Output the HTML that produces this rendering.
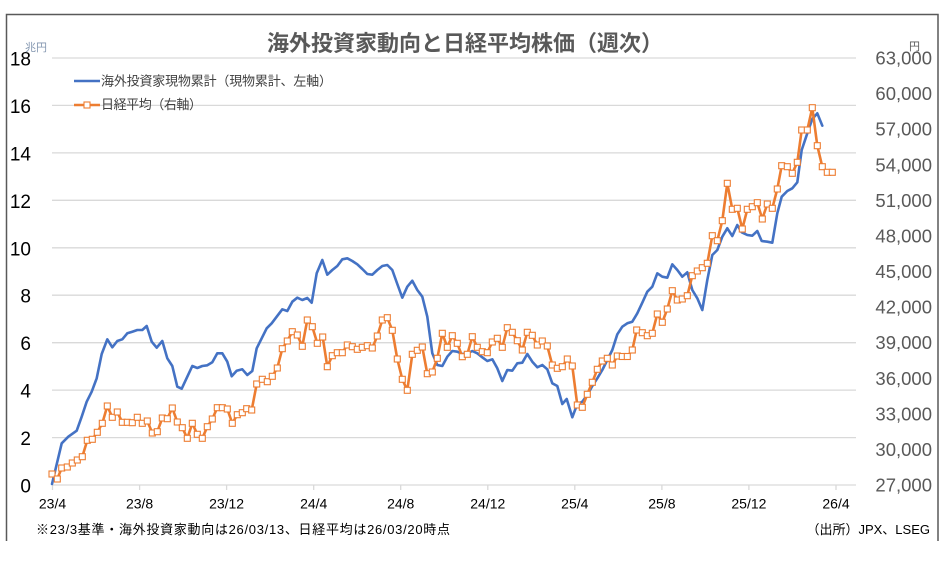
<!DOCTYPE html>
<html><head><meta charset="utf-8"><style>
html,body{margin:0;padding:0;background:#fff;}
svg{display:block;}
text{font-family:"Liberation Sans","Noto Sans CJK JP",sans-serif;}
</style></head><body>
<svg width="946" height="562" viewBox="0 0 946 562" xmlns="http://www.w3.org/2000/svg">
<defs>
<marker id="m" markerUnits="userSpaceOnUse" markerWidth="9" markerHeight="9" refX="4.5" refY="4.5" viewBox="0 0 9 9"><rect x="1.5" y="1.5" width="6" height="6" fill="#fff" stroke="#ED7D31" stroke-width="1.1"/></marker>
</defs>
<rect width="946" height="562" fill="#fff"/>
<!-- frame -->
<path d="M6.5 541 V14.5 H938 V541" fill="none" stroke="#595959" stroke-width="1.5"/>
<!-- title -->
<text x="465" y="51" text-anchor="middle" font-size="22" font-weight="bold" fill="#595959">海外投資家動向と日経平均株価（週次）</text>
<!-- gridlines -->
<g stroke="#d9d9d9" stroke-width="1.3">
<line x1="52" x2="856" y1="58" y2="58"/>
<line x1="52" x2="856" y1="105.4" y2="105.4"/>
<line x1="52" x2="856" y1="152.9" y2="152.9"/>
<line x1="52" x2="856" y1="200.3" y2="200.3"/>
<line x1="52" x2="856" y1="247.8" y2="247.8"/>
<line x1="52" x2="856" y1="295.2" y2="295.2"/>
<line x1="52" x2="856" y1="342.7" y2="342.7"/>
<line x1="52" x2="856" y1="390.1" y2="390.1"/>
<line x1="52" x2="856" y1="437.6" y2="437.6"/>
<line x1="52" x2="856" y1="485" y2="485"/>
<line x1="52.5" x2="52.5" y1="485" y2="490"/>
<line x1="139.6" x2="139.6" y1="485" y2="490"/>
<line x1="226.6" x2="226.6" y1="485" y2="490"/>
<line x1="313.7" x2="313.7" y1="485" y2="490"/>
<line x1="400.7" x2="400.7" y1="485" y2="490"/>
<line x1="487.8" x2="487.8" y1="485" y2="490"/>
<line x1="574.8" x2="574.8" y1="485" y2="490"/>
<line x1="661.9" x2="661.9" y1="485" y2="490"/>
<line x1="748.9" x2="748.9" y1="485" y2="490"/>
<line x1="836" x2="836" y1="485" y2="490"/>
</g>
<!-- left axis labels -->
<g font-size="19" fill="#000" text-anchor="end">
<text x="31" y="65.5">18</text>
<text x="31" y="112.9">16</text>
<text x="31" y="160.4">14</text>
<text x="31" y="207.8">12</text>
<text x="31" y="255.3">10</text>
<text x="31" y="302.7">8</text>
<text x="31" y="350.2">6</text>
<text x="31" y="397.6">4</text>
<text x="31" y="445.1">2</text>
<text x="31" y="492.5">0</text>
</g>
<text x="25" y="51" font-size="11" fill="#8497b0">兆円</text>
<!-- right axis labels -->
<g font-size="18.5" fill="#595959" text-anchor="end">
<text x="932" y="64.5">63,000</text>
<text x="932" y="100.1">60,000</text>
<text x="932" y="135.7">57,000</text>
<text x="932" y="171.3">54,000</text>
<text x="932" y="206.8">51,000</text>
<text x="932" y="242.4">48,000</text>
<text x="932" y="278">45,000</text>
<text x="932" y="313.6">42,000</text>
<text x="932" y="349.2">39,000</text>
<text x="932" y="384.8">36,000</text>
<text x="932" y="420.3">33,000</text>
<text x="932" y="455.9">30,000</text>
<text x="932" y="491.5">27,000</text>
</g>
<text x="920" y="50" font-size="11" fill="#595959" text-anchor="end">円</text>
<!-- x labels -->
<g font-size="14" fill="#000" text-anchor="middle">
<text x="52.5" y="508.5">23/4</text>
<text x="139.6" y="508.5">23/8</text>
<text x="226.6" y="508.5">23/12</text>
<text x="313.7" y="508.5">24/4</text>
<text x="400.7" y="508.5">24/8</text>
<text x="487.8" y="508.5">24/12</text>
<text x="574.8" y="508.5">25/4</text>
<text x="661.9" y="508.5">25/8</text>
<text x="748.9" y="508.5">25/12</text>
<text x="836" y="508.5">26/4</text>
</g>
<text x="36" y="534" font-size="13" fill="#000" textLength="414" lengthAdjust="spacing">※23/3基準・海外投資家動向は26/03/13、日経平均は26/03/20時点</text>
<text x="930" y="534" font-size="13" fill="#000" text-anchor="end">（出所）JPX、LSEG</text>
<!-- legend -->
<line x1="74" x2="100" y1="81" y2="81" stroke="#4472C4" stroke-width="2.6"/>
<text x="101" y="85.5" font-size="13" fill="#404040" textLength="231" lengthAdjust="spacing">海外投資家現物累計（現物累計、左軸）</text>
<polyline points="74,105 87,105 100,105" fill="none" stroke="#ED7D31" stroke-width="2.6" marker-mid="url(#m)"/>
<text x="101" y="109" font-size="13" fill="#404040" textLength="101" lengthAdjust="spacing">日経平均（右軸）</text>
<!-- blue series -->
<polyline fill="none" stroke="#4472C4" stroke-width="2.6" stroke-linejoin="round" stroke-linecap="round" points="52,484 61.7,443.3 68.3,436.7 76.7,430.7 81.7,416.7 86.7,401.7 91.7,391.7 96.7,378.3 101.7,354 107.3,339.3 112.3,347.3 117.3,341 122.3,339.3 127.3,333.3 132.3,331.7 137.3,330 142.3,330 146.7,326 151.7,341.7 156.7,347.7 162.3,341 167.3,358.3 172.3,366 177.3,386.7 181.7,388.7 187.3,376.7 192.3,366 197.3,368 202.3,366 207.3,365.3 212.3,362.3 217.3,353.3 222.3,353.3 227.3,361.7 231.7,376.3 236.7,370.7 242.3,369.3 247.3,375 252.3,371 256.7,348.3 261.7,338.3 266.7,328.3 271.7,323.3 276.7,316.7 282.3,309.3 287.3,311 292.3,301.7 297.3,297.7 302.3,300 307.3,298 311.7,302.7 316.7,273.3 322.3,260 327.3,274.7 332.3,270 337.3,266 342.3,259.3 347.3,258.3 352.3,261 357.3,264.3 362.3,269 367.3,274 372.3,274.7 377.3,270 382.3,266 387.3,265 392.3,270 397.3,284 402.3,297.7 407.3,286.7 412.3,280.7 417.3,290 422.3,296.7 427.3,316.7 432.3,353.3 437.3,365 442.3,366 447.3,356.7 452.3,351 457.3,351.7 462.3,354 467.3,353.3 472.3,351 477.3,353.3 482.3,357.3 487.3,361 492.3,359.3 497.3,368.3 502.3,381 507.3,370 512.3,370.7 517.3,363.3 522.3,362.7 527.3,354 532.3,361.7 537.3,367.3 542.3,365 547.3,369.3 552.3,383.3 557.3,386 562.3,404 566.7,399 572.3,417.3 577.3,404 582.3,401.7 587.3,395 592.3,386 597.3,378.3 602.3,370 607.3,360 612.3,350 617.3,334.3 622.3,326.7 627.3,323.3 632.3,321.7 637.3,313.3 642.3,302.7 647.3,291.7 652.3,286.7 657.3,273.3 662.3,276.7 667.3,277.7 672.3,264.3 677.3,270 682.3,276.7 687.3,272.3 692.3,290 697.3,298.3 702.3,310 707.3,280 712.3,255 717.3,250 722.3,236.7 727.3,228.3 732.3,236 737.3,225 741.7,232.3 747.3,235 752.3,235.7 757.3,231 761.7,241 767.3,241.7 772.3,242.7 777.3,213.3 781.7,196.7 787.3,191 792.3,188.3 797.3,182.3 801.7,150 807.3,133.3 812.3,119 817.3,113.3 822.3,125.7"/>
<!-- orange series -->
<polyline fill="none" stroke="#ED7D31" stroke-width="2.6" stroke-linejoin="round" marker-start="url(#m)" marker-mid="url(#m)" marker-end="url(#m)" points="52,474 57.3,479 61.7,468 67.3,467 72.3,463 77.3,460 82.3,456.7 87.3,440.3 92.3,439.3 97.3,432.3 102.3,423.3 107.3,406 112.3,417.3 117.3,412 122.3,422.3 127.3,422.3 132.3,422.7 137.3,417.3 142.3,423.3 147.3,421 152.3,433 157.3,431.7 162.3,418 167.3,418.7 172.3,408 177.3,422 182.3,427.7 187.3,438.3 192.3,423.3 197.3,434.3 202.3,438.3 207.3,426.7 212.3,419 217.3,407.7 222.3,407.7 227.3,409 232.3,423.3 237.3,414.7 242.3,412.7 246.7,408.7 251.7,410 256.7,384 262.3,379.3 267.3,381.7 272.3,376.3 277.3,368 282.3,348.7 287.3,341 292.3,331.7 297.3,335 302.3,346.3 307.3,320 312.3,326.7 317.3,343.3 322.7,337 327.3,366.7 332.3,355.7 337.3,352.7 342.3,352.7 347.3,345 352.3,346.7 357.3,349.3 362.3,347.3 367.3,345.7 372.3,348 377.3,336 382.3,320 387.3,317.7 392.3,330.3 397.3,359 402.3,379.3 407.3,390.3 412.3,354.3 417.3,350.3 422.3,347 427.3,373.7 432.3,372 437.3,358.3 442.3,333.3 447.3,347.3 452.3,335.7 457.3,343.3 462.3,356.7 467.3,354.3 472.3,336.7 477.3,347.3 482.3,351.7 487.3,352.7 492.3,342 497.3,338.3 502.3,347.3 507.3,327.7 512.3,332.3 517.3,340.7 522.3,350 527.3,332.3 532.3,335.3 537.3,345 542.3,341 547.3,346 552.3,365 557.3,368.3 562.3,366.7 567.3,359 572.3,366 577.3,405 582.3,407.3 587.3,394.3 592.3,382.3 597.3,369.3 602.3,361 607.3,358.3 612.3,365 617.3,356 622.3,356.5 627.3,356.5 632.3,350 636.7,330 642.3,332.7 647.3,335.7 652.3,333.3 657.3,314 662.3,322.3 667.3,309 672.3,290.7 677.3,300 682.3,299 687.3,295.7 692.3,275.7 697.3,271 702.3,267.7 707.3,263.3 712.3,235.7 717.3,240.7 722.3,220.7 727.3,183.3 732.3,209.3 737.3,208.3 742.3,229 747.3,209.3 752.3,206.7 757.3,202.7 762.3,219 767.3,204 772.3,208.3 777.3,189 781.7,165.7 787.3,166.7 792.3,173.3 797.3,162.3 801.7,130 807.3,130 812.3,107.7 817.3,145.7 822.3,166.7 827.3,172.3 832.3,172.3"/>
</svg>
</body></html>
